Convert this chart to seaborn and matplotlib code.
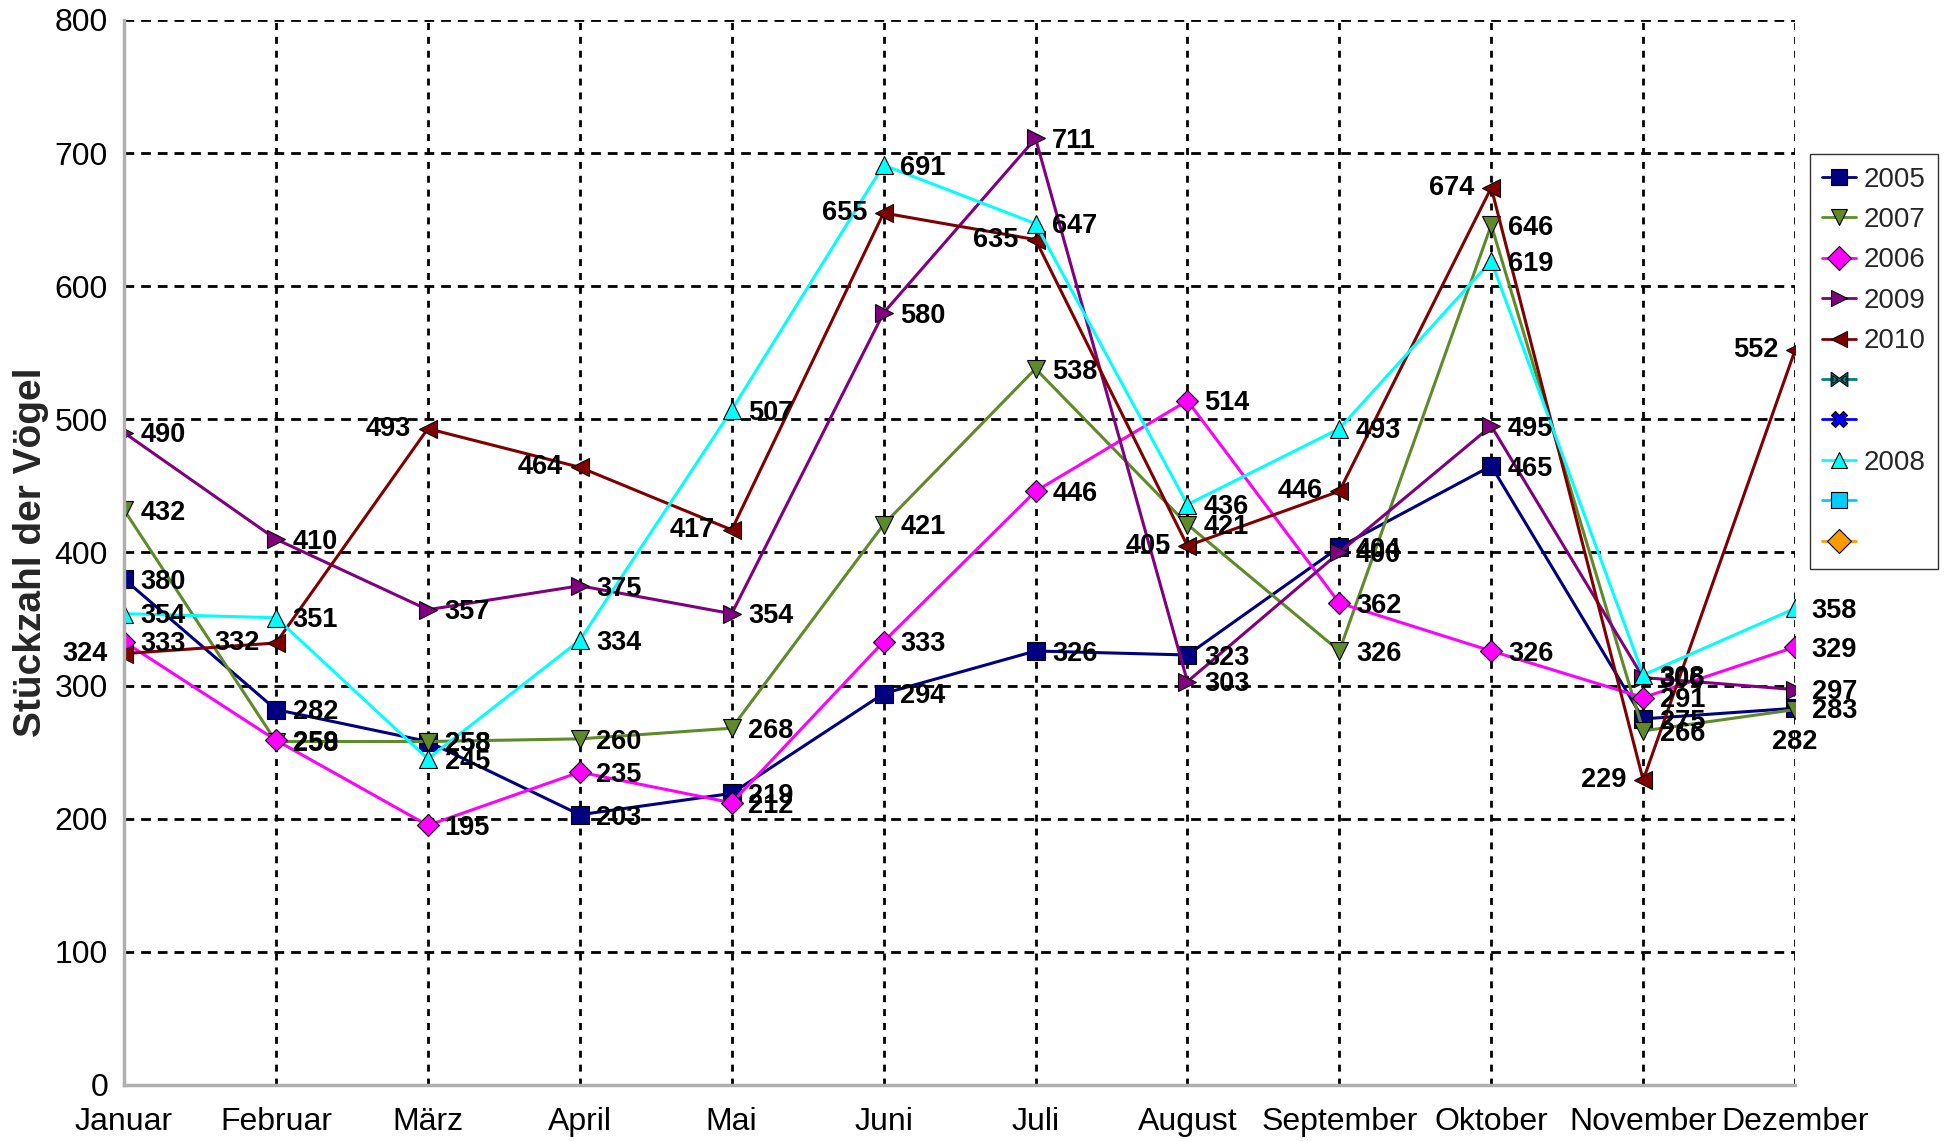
import matplotlib

matplotlib.use("Agg")
import matplotlib.pyplot as plt
import pandas as pd
import seaborn as sns
from matplotlib.lines import Line2D

months = ["Januar", "Februar", "März", "April", "Mai", "Juni", "Juli",
          "August", "September", "Oktober", "November", "Dezember"]

y2005 = [380, 282, 258, 203, 219, 294, 326, 323, 404, 465, 275, 283]
y2007 = [432, 258, 258, 260, 268, 421, 538, 421, 326, 646, 266, 282]
y2006 = [333, 259, 195, 235, 212, 333, 446, 514, 362, 326, 291, 329]
y2009 = [490, 410, 357, 375, 354, 580, 711, 303, 400, 495, 306, 297]
y2010 = [324, 332, 493, 464, 417, 655, 635, 405, 446, 674, 229, 552]
y2008 = [354, 351, 245, 334, 507, 691, 647, 436, 493, 619, 308, 358]

series = {"2005": y2005, "2007": y2007, "2006": y2006,
          "2009": y2009, "2010": y2010, "2008": y2008}
colors = {"2005": "#000080", "2007": "#5f8a2a", "2006": "#ff00ff",
          "2009": "#800080", "2010": "#800000", "2008": "#00ffff"}
markers = {"2005": "s", "2007": "v", "2006": "D",
           "2009": ">", "2010": "<", "2008": "^"}

rows = []
for name, vals in series.items():
    for i, v in enumerate(vals):
        rows.append({"Jahr": name, "idx": i, "Monat": months[i], "Anzahl": v})
df = pd.DataFrame(rows)

sns.set_style("white")
plt.rcParams["font.family"] = ["Liberation Sans", "DejaVu Sans"]

fig = plt.figure(figsize=(19.44, 11.41), dpi=100)
ax = fig.add_axes([0.0638, 0.0491, 0.8596, 0.9334])

for name in series:
    sub = df[df["Jahr"] == name]
    ms = 13 if markers[name] != "D" else 11
    sns.lineplot(data=sub, x="idx", y="Anzahl", ax=ax, color=colors[name],
                 marker=markers[name], markersize=ms, markeredgecolor="black",
                 markeredgewidth=0.8, linewidth=2.2, sort=False, legend=False)

# data labels
for name, vals in series.items():
    for i, v in enumerate(vals):
        if name == "2010":
            off, ha, va = (-12, 0), "right", "center"
        elif name == "2007" and i == 11:
            off, ha, va = (0, -14), "center", "top"
        else:
            off, ha, va = (12, -2), "left", "center"
        ax.annotate(str(v), (i, v), xytext=off, textcoords="offset points",
                    ha=ha, va=va, fontsize=19.5, fontweight="bold", color="black")

ax.set_xlim(0, 11)
ax.set_ylim(0, 800)
ax.set_xticks(range(len(months)))
ax.set_xticklabels(months)
ax.set_yticks(range(0, 801, 100))
ax.tick_params(axis="both", labelsize=23, colors="#aaaaaa", length=8, width=2,
               direction="out", labelcolor="black")
ax.tick_params(axis="x", pad=8)
ax.set_xlabel("")
ax.set_ylabel("Stückzahl der Vögel", fontsize=28, fontweight="bold", labelpad=4)

for yv in range(100, 801, 100):
    ax.axhline(yv, color="black", linewidth=2, linestyle=(0, (3.5, 2.5)), zorder=0.5)
for xv in range(1, 12):
    ax.axvline(xv, color="black", linewidth=2, linestyle=(0, (2.5, 2.5)), zorder=0.5)

for side in ["top", "right"]:
    ax.spines[side].set_visible(False)
for side in ["left", "bottom"]:
    ax.spines[side].set_color("#b0b0b0")
    ax.spines[side].set_linewidth(2.5)

legend_entries = [
    ("2005", "#000080", "s"), ("2007", "#5f8a2a", "v"), ("2006", "#ff00ff", "D"),
    ("2009", "#800080", ">"), ("2010", "#800000", "<"), (" ", "#008080", "$\u22c8$"),
    (" ", "#0000ff", "X"), ("2008", "#00ffff", "^"), (" ", "#00ccff", "s"),
    (" ", "#ff9900", "D"),
]
handles = [Line2D([0], [0], color=c, marker=m, markersize=12, markeredgecolor="black",
                  markeredgewidth=0.8, linewidth=2)
           for _, c, m in legend_entries]
labels = [t for t, _, _ in legend_entries]
leg = fig.legend(handles, labels, loc="upper left", bbox_to_anchor=(0.931, 0.865),
                 borderaxespad=0, fontsize=20, frameon=True, fancybox=False,
                 handlelength=1.2, handletextpad=0.3, labelspacing=0.52,
                 borderpad=0.45)
leg.get_frame().set_edgecolor("black")
leg.get_frame().set_linewidth(1)

fig.savefig("out.png", dpi=100)
